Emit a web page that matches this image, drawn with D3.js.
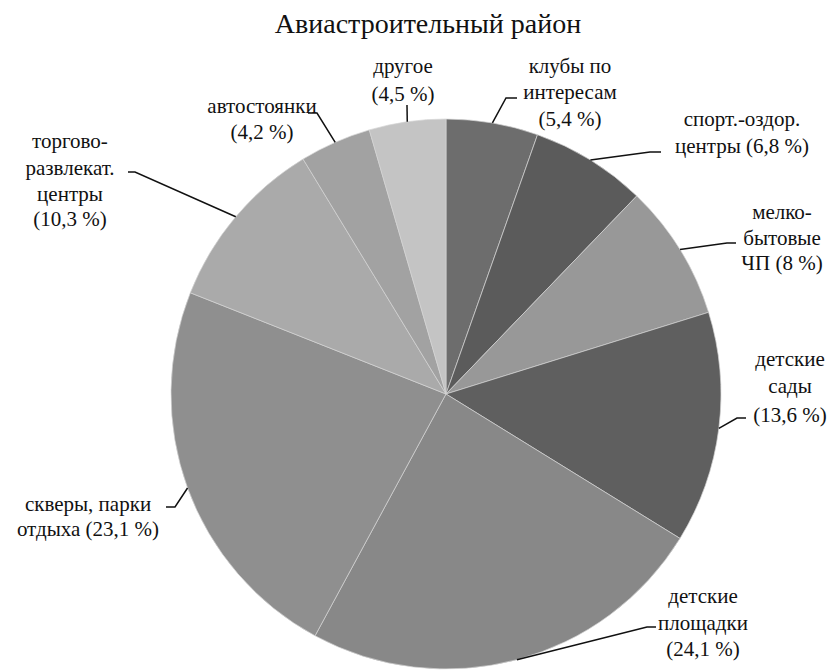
<!DOCTYPE html>
<html lang="en"><head><meta charset="utf-8">
<script src="https://cdn.jsdelivr.net/npm/d3@7"></script>
</head><body style="margin:0"><svg id="c" width="833" height="672"></svg>
<script>
const title = "Авиастроительный район";
const categories = [
  ["клубы по","интересам","(5,4 %)"],
  ["спорт.-оздор.","центры (6,8 %)"],
  ["мелко-","бытовые","ЧП (8 %)"],
  ["детские","сады","(13,6 %)"],
  ["детские","площадки","(24,1 %)"],
  ["скверы, парки","отдыха (23,1 %)"],
  ["торгово-","развлекат.","центры","(10,3 %)"],
  ["автостоянки","(4,2 %)"],
  ["другое","(4,5 %)"]
];
const values = [5.4, 6.8, 8, 13.6, 24.1, 23.1, 10.3, 4.2, 4.5];
const colors = ["#6d6d6d","#5b5b5b","#989898","#5f5f5f","#888888","#8f8f8f","#aaaaaa","#a2a2a2","#c4c4c4"];

// label layout (text centre x, baselines, leader elbow and end)
const labelLayout = [
  {x:570, y:[73,99,126], elbow:[506,98], end:[517,98]},
  {x:742, y:[126,153], elbow:[650,152], end:[661,152]},
  {x:782, y:[219,245,270], elbow:[727,243], end:[736,243]},
  {x:790, y:[366,393,422], elbow:[737,418], end:[746,418]},
  {x:703, y:[603,630,656], elbow:[647,627], end:[656,627]},
  {x:88,  y:[511,536], elbow:[175,507], end:[166,507]},
  {x:70,  y:[148,175,201,226], elbow:[135,172], end:[128,172]},
  {x:262, y:[113,139], elbow:[317,113], end:[308,113]},
  {x:403, y:[73,101], elbow:[407,105], end:null}
];

const cx = 446, cy = 394, R = 275;
const svg = d3.select("#c");

const pie = d3.pie().sort(null).value(d=>d);
const arcs = pie(values);
const arc = d3.arc().innerRadius(0).outerRadius(R);
const edge = d3.arc().innerRadius(R).outerRadius(R);
const g = svg.append("g").attr("transform",`translate(${cx},${cy})`);
g.selectAll("path").data(arcs).join("path")
  .attr("d",arc).attr("fill",(d,i)=>colors[i])
  .attr("stroke","#d4d4d4").attr("stroke-width",0.7);

const lines = svg.append("g");
arcs.forEach((a,i)=>{
  const L = labelLayout[i];
  const c = edge.centroid(a);
  const pts = [[cx+c[0], cy+c[1]], L.elbow];
  if (L.end) pts.push(L.end);
  lines.append("path").attr("d", d3.line()(pts))
    .attr("fill","none").attr("stroke","#111").attr("stroke-width",1.5);
});

function addText(str, x, y, size){
  svg.append("text").attr("x",x).attr("y",y)
    .attr("font-size",size).attr("font-family","Liberation Serif")
    .attr("text-anchor","middle").attr("fill","#111")
    .text(str);
}
addText(title, 428, 33, 28);
arcs.forEach((a,i)=>{
  const L = labelLayout[i];
  categories[i].forEach((s,k)=> addText(s, L.x, L.y[k], 21));
});
</script></body></html>
